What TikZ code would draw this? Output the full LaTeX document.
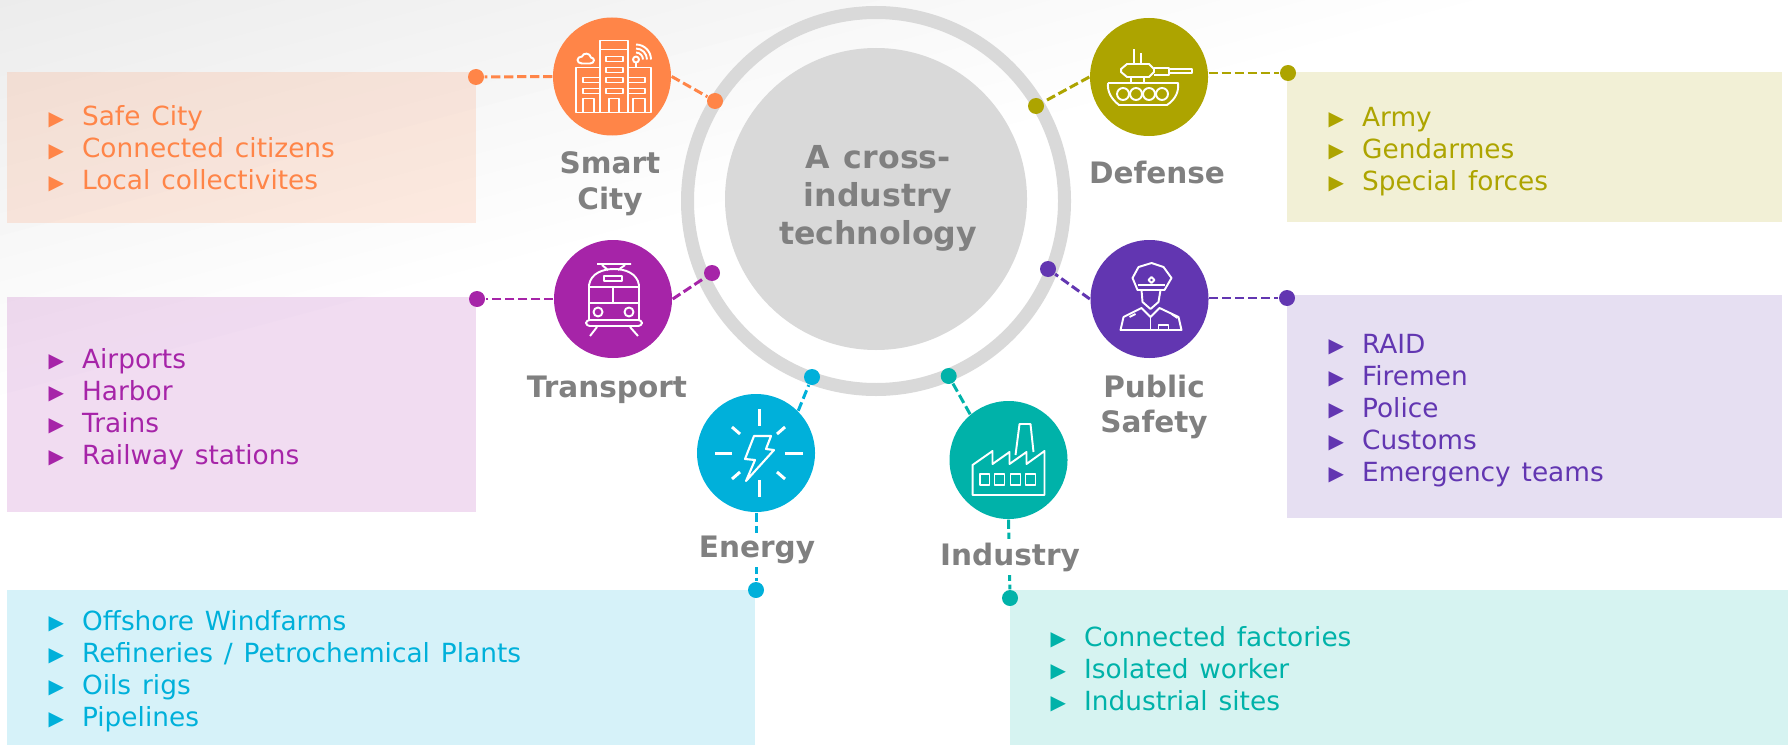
\documentclass[tikz,border=0pt]{standalone}
\usepackage{fontspec}
\setmainfont[WordSpace=1.3]{DejaVu Sans}
\definecolor{orangec}{HTML}{FF8548}
\definecolor{olivec}{HTML}{ADA400}
\definecolor{magentac}{HTML}{A624A8}
\definecolor{purplec}{HTML}{6236B1}
\definecolor{cyanc}{HTML}{00B0DA}
\definecolor{tealc}{HTML}{00B2A9}
\definecolor{hubgray}{HTML}{D9D9D9}
\definecolor{labelgray}{HTML}{808080}
\newcommand{\bitem}[1]{\strut\makebox[9.5pt][l]{\raisebox{0.2pt}{\fontsize{5.7}{6}\selectfont ▶}}#1}
\tikzset{
  disc/.style={circle, minimum size=1.18cm, inner sep=0pt, fill=#1},
  pin/.style={circle, minimum size=0.16cm, inner sep=0pt, fill=#1},
  panel/.style={anchor=north west, inner sep=0pt, fill=#1, fill opacity=0.16},
  toplabel/.style={font=\fontsize{8.4}{10.2}\selectfont\bfseries, text=labelgray, align=center},
  listtext/.style={anchor=west, inner sep=0pt, align=left, text=#1, font=\fontsize{7.5}{9.1}\selectfont},
  link/.style={draw=#1, line width=0.85pt, dash pattern=on 2.6pt off 1.1pt},
  icon/.style={x=0.01cm, y=-0.01cm, draw=white, line width=0.55pt, line join=round}
}
\begin{document}
\begin{tikzpicture}
\useasboundingbox (0,0.01) rectangle (17.88,7.45);
% backdrop
\begin{scope}
\clip (0,0) rectangle (17.88,7.45);
\foreach \i [evaluate=\i as \p using \i*0.42, evaluate=\i as \q using 3.5+\i*0.22-0.22] in {1,...,18}
  \fill [black!\p, rotate around={15:(0,3.5)}] (-3,\q) rectangle (20,9.5);
\end{scope}
% panels
\node (p1) [panel=orangec, minimum width=4.69cm, minimum height=1.51cm] at (0.065,6.735) {};
\node (p2) [panel=olivec, minimum width=4.95cm, minimum height=1.50cm] at (12.865,6.735) {};
\node (p3) [panel=magentac, minimum width=4.69cm, minimum height=2.15cm] at (0.065,4.485) {};
\node (p4) [panel=purplec, minimum width=4.95cm, minimum height=2.23cm] at (12.865,4.505) {};
\node (p5) [panel=cyanc, minimum width=7.48cm, minimum height=1.56cm] at (0.065,1.56) {};
\node (p6) [panel=tealc, minimum width=7.78cm, minimum height=1.56cm] at (10.095,1.56) {};
% lists
\node (t1) [listtext=orangec] at (0.48,5.935) {\bitem{Safe City}\\\bitem{Connected citizens}\\\bitem{Local collectivites}};
\node (t2) [listtext=olivec] at (13.28,5.93) {\bitem{Army}\\\bitem{Gendarmes}\\\bitem{Special forces}};
\node (t3) [listtext=magentac] at (0.48,3.35) {\bitem{Airports}\\\bitem{Harbor}\\\bitem{Trains}\\\bitem{Railway stations}};
\node (t4) [listtext=purplec] at (13.28,3.34) {\bitem{RAID}\\\bitem{Firemen}\\\bitem{Police}\\\bitem{Customs}\\\bitem{Emergency teams}};
\node (t5) [listtext=cyanc] at (0.48,0.73) {\bitem{Offshore Windfarms}\\\bitem{Refineries / Petrochemical Plants}\\\bitem{Oils rigs}\\\bitem{Pipelines}};
\node (t6) [listtext=tealc] at (10.50,0.73) {\bitem{Connected factories}\\\bitem{Isolated worker}\\\bitem{Industrial sites}};
% hub
\node (ring) [circle, draw=hubgray, line width=3.7pt, minimum size=3.77cm, inner sep=0pt] at (8.76,5.44) {};
\node (hub) [circle, fill=hubgray, minimum size=3.02cm, inner sep=0pt] at (8.76,5.46) {};
\node (hubtext) [align=center, text=labelgray, font=\fontsize{9.0}{10.8}\selectfont\bfseries] at (8.78,5.47) {A cross-\\industry\\technology};
% discs
\node (c1) [disc=orangec] at (6.12,6.685) {};
\node (c2) [disc=olivec] at (11.49,6.68) {};
\node (c3) [disc=magentac] at (6.13,4.46) {};
\node (c4) [disc=purplec] at (11.495,4.46) {};
\node (c5) [disc=cyanc] at (7.56,2.92) {};
\node (c6) [disc=tealc] at (10.085,2.85) {};
% pins
\node (a1) [pin=orangec] at (4.76,6.68) {};
\node (b1) [pin=orangec] at (7.15,6.44) {};
\node (a2) [pin=olivec] at (12.88,6.72) {};
\node (b2) [pin=olivec] at (10.36,6.39) {};
\node (a3) [pin=magentac] at (4.77,4.46) {};
\node (b3) [pin=magentac] at (7.12,4.72) {};
\node (a4) [pin=purplec] at (12.87,4.47) {};
\node (b4) [pin=purplec] at (10.48,4.76) {};
\node (a5) [pin=cyanc] at (7.56,1.55) {};
\node (b5) [pin=cyanc] at (8.12,3.68) {};
\node (a6) [pin=tealc] at (10.10,1.47) {};
\node (b6) [pin=tealc] at (9.487,3.69) {};
% links
\draw [link=orangec] (c1.west) edge (a1) (c1.east) edge (b1);
\draw [link=olivec] (c2.east |- a2) edge (a2) (c2.west) edge (b2);
\draw [link=magentac] (c3.west) edge (a3) (c3.east) edge (b3);
\draw [link=purplec] (c4.east |- a4) edge (a4) (c4.west) edge (b4);
\draw [link=cyanc] (c5.south) edge (a5) (c5.45) edge (b5);
\draw [link=tealc] (c6.south) edge (a6) (c6.130) edge (b6);
% labels
\node (l1) [toplabel] at (6.10,5.61) {Smart\\City};
\node (l2) [toplabel] at (11.57,5.73) {Defense};
\node (l3) [toplabel] at (6.07,3.55) {Transport};
\node (l4) [toplabel] at (11.54,3.38) {Public\\Safety};
\node (l5) [toplabel, fill=white, inner sep=1pt] at (7.57,1.95) {Energy};
\node (l6) [toplabel, fill=white, inner sep=1pt] at (10.10,1.88) {Industry};
% smart city icon
\begin{scope}[shift={(c1)}, icon]
\draw (-12,36) -- (-12,-36) -- (16,-36) -- (16,36);
\draw (-12,-27) -- (16,-27);
\draw (-12,-9) -- (-36,-9) -- (-36,36) -- (39,36) -- (39,-9) -- (16,-9);
\foreach \y in {-20,-9,1,12} \draw (-6,\y) rectangle (11,\y+5);
\foreach \y in {1,12} {\draw (-29,\y) rectangle (-12,\y+5); \draw (16,\y) rectangle (33,\y+5);}
\foreach \x/\w in {-29/11,-3/10,21/12} \draw (\x,36) -- (\x,22) -- (\x+\w,22) -- (\x+\w,36);
\draw (24,-9) -- (24,-14);
\draw (24,-17) circle [radius=3];
\foreach \r in {7,11,15} \draw (24+\r,-17) arc [start angle=0, end angle=-90, radius=\r];
\draw (-30,-13) -- (-22,-13) .. controls (-17,-13) and (-17,-19) .. (-21,-19) .. controls (-22,-24) and (-29,-24) .. (-30,-20) .. controls (-36,-20) and (-36,-13) .. (-30,-13);
\end{scope}
% tank icon
\begin{scope}[shift={(c2)}, icon]
\draw (-15,-28) -- (-15,-13) (-8,-24) -- (-8,-13);
\draw (-22,-13) -- (0,-13) -- (5,-8) -- (5,-5) -- (0,0) -- (-22,0) -- (-28,-5) -- (-28,-8) -- cycle;
\draw (5,-9) -- (20,-9) -- (20,-2) -- (5,-2);
\draw (20,-8) -- (43,-8) -- (43,-4) -- (20,-4);
\draw (-18,0) -- (-18,6) (-5,0) -- (-5,6);
\draw (-41,6) -- (29,6) .. controls (30,14) and (27,22) .. (18,28) -- (-30,28) .. controls (-38,22) and (-42,14) .. (-41,6);
\foreach \x in {-26,-13,0,13} \draw (\x,17) circle [radius=6];
\end{scope}
% train icon
\begin{scope}[shift={(c3)}, icon]
\draw (-16,-35) -- (18,-35) (-11,-34) -- (-5,-29) (12,-34) -- (5,-29);
\draw (-24,21) -- (-24,-14) .. controls (-22,-26) and (-10,-30) .. (1,-30) .. controls (12,-30) and (24,-26) .. (26,-14) -- (26,21);
\draw (-24,-12) -- (26,-12) (-24,4) -- (26,4) (0,-12) -- (0,4);
\draw (-9,-23) rectangle (9,-18);
\draw (-15,13) circle [radius=4.5] (16,13) circle [radius=4.5];
\draw [rounded corners=1pt] (-27,21) rectangle (29,27);
\draw (-16,28) -- (-23,37) (17,28) -- (25,37);
\end{scope}
% officer icon
\begin{scope}[shift={(c4)}, icon]
\draw (2,-36) -- (14,-32) -- (22,-21) -- (15,-9) -- (-12,-9) -- (-17,-21) -- (-11,-32) -- cycle;
\draw (-12,-14) -- (15,-14);
\draw (2,-22) -- (5,-19) -- (2,-16) -- (-1,-19) -- cycle;
\draw (-8,-9) -- (-7,3) -- (1,10) -- (9,3) -- (11,-9);
\draw (-29,31) -- (-26,18) -- (-8,9) -- (1,18) -- (10,9) -- (29,18) -- (32,31) -- cycle;
\draw (1,18) -- (1,31);
\draw (-20,18) -- (-14,15) (22,15) -- (28,19);
\draw (9,31) -- (9,26) -- (19,26) -- (19,31);
\end{scope}
% energy icon
\begin{scope}[shift={(c5)}, icon, line width=0.85pt]
\draw (3,-44) -- (3,-27) (3,27) -- (3,44) (-41,0) -- (-24,0) (29,0) -- (47,0);
\draw (-24,-26) -- (-16,-19) (29,-26) -- (21,-19) (-24,26) -- (-16,19) (29,26) -- (21,19);
\draw [line width=0.6pt] (-2,-17) -- (15,-17) -- (10,-4) -- (18,-3) -- (-10,28) -- (-1,7) -- (-11,6) -- cycle;
\end{scope}
% factory icon
\begin{scope}[shift={(c6)}, icon]
\draw (-36,35) -- (36,35) -- (36,-9) -- (18,4) -- (18,-8) -- (1,4) -- (1,-8) -- (-16,4) -- (-16,-9) -- (-36,5) -- cycle;
\draw (7,-5) -- (11,-36) -- (22,-36) -- (25,-8);
\foreach \x in {-29,-14,2,17} \draw (\x,14) rectangle (\x+10,25);
\end{scope}
\end{tikzpicture}
\end{document}
